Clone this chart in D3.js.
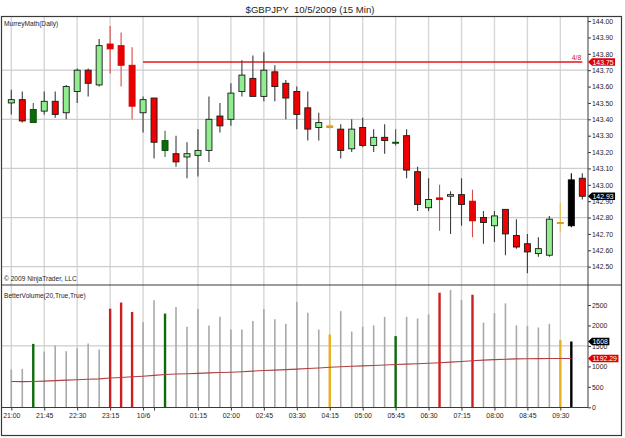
<!DOCTYPE html>
<html>
<head>
<meta charset="utf-8">
<script src="https://cdn.jsdelivr.net/npm/d3@7"></script>
<style>
  body { margin: 0; background: #fff; }
  svg text { font-family: "Liberation Sans", Arial, sans-serif; fill: #1e1e1e; }
</style>
</head>
<body>
<div id="chart"></div>
<script>
// 15 min bars, 10/5 21:00 -> 10/6 10:00
const times = ["21:00","21:15","21:30","21:45","22:00","22:15","22:30","22:45","23:00","23:15","23:30","23:45",
  "00:00","00:15","00:30","00:45","01:00","01:15","01:30","01:45","02:00","02:15","02:30","02:45",
  "03:00","03:15","03:30","03:45","04:00","04:15","04:30","04:45","05:00","05:15","05:30","05:45",
  "06:00","06:15","06:30","06:45","07:00","07:15","07:30","07:45","08:00","08:15","08:30","08:45",
  "09:00","09:15","09:30","09:45","10:00"];
const open  = [143.50,143.52,143.38,143.45,143.51,143.44,143.57,143.70,143.61,143.86,143.85,143.73,
  143.44,143.53,143.21,143.19,143.17,143.18,143.21,143.42,143.40,143.57,143.65,143.54,
  143.69,143.62,143.57,143.47,143.35,143.36,143.34,143.22,143.35,143.24,143.29,143.26,
  143.30,143.08,142.86,142.92,142.93,142.94,142.90,142.80,142.75,142.85,142.69,142.64,
  142.58,142.57,142.77,142.75,143.04];
const high  = [143.58,143.57,143.50,143.57,143.57,143.61,143.71,143.71,143.89,143.97,143.93,143.84,
  143.54,143.53,143.33,143.30,143.26,143.34,143.54,143.50,143.62,143.76,143.79,143.81,
  143.73,143.64,143.60,143.57,143.44,143.42,143.37,143.40,143.41,143.34,143.37,143.34,
  143.34,143.11,143.04,143.00,142.96,143.04,142.97,142.84,142.84,142.85,142.79,142.70,
  142.68,142.81,142.89,143.07,143.07];
const low   = [143.43,143.38,143.38,143.43,143.41,143.40,143.50,143.54,143.60,143.68,143.60,143.40,
  143.32,143.16,143.17,143.11,143.04,143.05,143.14,143.32,143.36,143.54,143.54,143.51,
  143.51,143.40,143.34,143.27,143.27,143.34,143.16,143.20,143.23,143.20,143.19,143.24,
  143.04,142.84,142.84,142.72,142.70,142.75,142.68,142.64,142.65,142.57,142.61,142.46,
  142.56,142.56,142.71,142.74,142.91];
const close = [143.52,143.39,143.46,143.51,143.43,143.60,143.70,143.62,143.85,143.83,143.73,143.48,
  143.52,143.26,143.27,143.14,143.19,143.21,143.40,143.36,143.56,143.67,143.54,143.70,
  143.60,143.53,143.43,143.34,143.38,143.35,143.21,143.34,143.24,143.29,143.27,143.26,
  143.09,142.88,142.91,142.91,142.94,142.88,142.78,142.77,142.81,142.70,142.62,142.59,
  142.61,142.79,142.77,143.03,142.93];
// up / dn normal, dg = green volume, cl = red climax, gd = gold, bk = black
const barKind = ["up","dn","dg","up","dn","up","up","dn","up","cl","cl","cl",
  "up","dn","dg","dn","up","up","up","dn","up","up","dn","up",
  "dn","dn","dn","dn","up","gd","dn","up","dn","up","dn","dg",
  "dn","dn","up","cl","up","dn","cl","dn","up","dn","dn","dn",
  "up","up","gd","bk","dn"];
// BetterVolume (last bar has none yet)
const volume = [920,940,1550,1360,1510,1370,1440,1560,1410,2410,2560,2330,
  2080,2615,2290,2450,1970,2400,2000,2210,1900,1900,2110,2400,
  2150,2040,2570,2310,1900,1780,2350,1850,1970,2000,2210,1740,
  2210,2170,2270,2800,2870,2620,2750,2070,2300,2540,2000,1990,
  1950,2040,1640,1608];
const volAvg = [630,628,630,640,652,663,675,686,695,715,730,745,
  760,780,800,812,820,830,842,850,858,870,885,898,
  908,920,933,948,962,980,990,1002,1012,1022,1035,1047,
  1055,1065,1075,1088,1104,1120,1136,1152,1165,1175,1183,1188,
  1190,1191,1192,1192.29];
const tickBars   = ["21:00","21:45","22:30","23:15","00:00","00:15","01:15","02:00","02:45","03:30","04:15","05:00","05:45","06:30","07:15","08:00","08:45","09:30"];
const tickLabels = ["21:00","21:45","22:30","23:15","10/6","","01:15","02:00","02:45","03:30","04:15","05:00","05:45","06:30","07:15","08:00","08:45","09:30"];
const gridBars = tickBars.filter((d, i) => tickLabels[i] !== "");
const priceTicks = [142.50,142.60,142.70,142.80,142.90,143.00,143.10,143.20,143.30,143.40,143.50,143.60,143.70,143.80,143.90,144.00];
const priceGrid = [142.50,142.80,143.10,143.40,143.70];
const volTicks = [0,500,1000,1500,2000,2500];
const volGrid = [1500];
const murreyLevel = 143.75, murreyLabel = "4/8", murreyFrom = "00:00", murreyTo = "10:00";

const W = 625, H = 438;
const pLeft = 1.5, pRight = 588, pTop = 16.5, pSplit = 285, pBottom = 407.5;
const small = "6.9px";

const svg = d3.select("#chart").append("svg").attr("width", W).attr("height", H);

const x = d3.scalePoint().domain(times).range([11.3, 582.3]);
const yP = d3.scaleLinear().domain([142.388, 144.031]).range([pSplit, 16]);
const yV = d3.scaleLinear().domain([0, 2964]).range([407.3, 286]);

const kindStyle = {
  up: {fill: "#90ee90", stroke: "#1a1a1a", wick: "#3c3c3c", vol: "#a9a9a9"},
  dn: {fill: "#f00000", stroke: "#1a1a1a", wick: "#3c3c3c", vol: "#a9a9a9"},
  dg: {fill: "#0b6b0b", stroke: "#0a4a0a", wick: "#2e6e2e", vol: "#0b6b0b"},
  cl: {fill: "#e60000", stroke: "#d80000", wick: "#d84848", vol: "#cc1f1f"},
  gd: {fill: "#e3a82a", stroke: "#d49a1a", wick: "#e8bd55", vol: "#e8b020"},
  bk: {fill: "#000", stroke: "#000", wick: "#000", vol: "#000"}
};

// title
svg.append("text").attr("x", 310).attr("y", 13).attr("text-anchor", "middle")
  .style("font-size", "9.6px").style("white-space", "pre")
  .text("$GBPJPY  10/5/2009 (15 Min)");

// grid
const grid = svg.append("g");
grid.selectAll(".vg").data(gridBars).enter().append("line")
  .attr("x1", d => x(d)).attr("x2", d => x(d))
  .attr("y1", pTop).attr("y2", pBottom)
  .attr("stroke", "#d6d6d6").attr("stroke-width", 1.4);
grid.selectAll(".hg").data(priceGrid).enter().append("line")
  .attr("x1", pLeft).attr("x2", pRight)
  .attr("y1", d => yP(d)).attr("y2", d => yP(d))
  .attr("stroke", "#cdcdcd").attr("stroke-width", 1.2);
grid.selectAll(".hv").data(volGrid).enter().append("line")
  .attr("x1", pLeft).attr("x2", pRight)
  .attr("y1", d => yV(d)).attr("y2", d => yV(d))
  .attr("stroke", "#cdcdcd").attr("stroke-width", 1.2);

// murrey math line
svg.append("line")
  .attr("x1", x(murreyFrom)).attr("x2", x(murreyTo))
  .attr("y1", yP(murreyLevel)).attr("y2", yP(murreyLevel))
  .attr("stroke", "#e8141a").attr("stroke-width", 1.4);
svg.append("text").attr("x", x(murreyTo) - 1).attr("y", yP(murreyLevel) - 2.5)
  .attr("text-anchor", "end").style("font-size", small).style("fill", "#d02020")
  .text(murreyLabel);

// candles
const idx = d3.range(times.length);
const candles = svg.append("g").selectAll("g").data(idx).enter().append("g");
candles.append("line")
  .attr("x1", i => x(times[i])).attr("x2", i => x(times[i]))
  .attr("y1", i => yP(high[i])).attr("y2", i => yP(low[i]))
  .attr("stroke", i => kindStyle[barKind[i]].wick).attr("stroke-width", 1.1);
candles.append("rect")
  .attr("x", i => x(times[i]) - 3)
  .attr("width", 6)
  .attr("y", i => yP(Math.max(open[i], close[i])))
  .attr("height", i => Math.max(1, Math.abs(yP(open[i]) - yP(close[i]))))
  .attr("fill", i => kindStyle[barKind[i]].fill)
  .attr("stroke", i => kindStyle[barKind[i]].stroke).attr("stroke-width", 0.9);

// volume bars
const vb = d3.range(volume.length);
svg.append("g").selectAll("line").data(vb).enter().append("line")
  .attr("x1", i => x(times[i])).attr("x2", i => x(times[i]))
  .attr("y1", yV(0)).attr("y2", i => yV(volume[i]))
  .attr("stroke", i => kindStyle[barKind[i]].vol)
  .attr("stroke-width", i => (barKind[i] === "up" || barKind[i] === "dn") ? 1.6 : 2.4);

// volume average
svg.append("path").datum(vb)
  .attr("d", d3.line().x(i => x(times[i])).y(i => yV(volAvg[i])))
  .attr("fill", "none").attr("stroke", "#b04040").attr("stroke-width", 1.1);

// frame
svg.append("rect").attr("x", pLeft).attr("y", pTop).attr("width", 620).attr("height", 419)
  .attr("fill", "none").attr("stroke", "#3a3a3a").attr("stroke-width", 1.2);
svg.append("line").attr("x1", pLeft).attr("x2", 621.5).attr("y1", pSplit).attr("y2", pSplit)
  .attr("stroke", "#3a3a3a").attr("stroke-width", 1.2);
svg.append("line").attr("x1", pRight).attr("x2", pRight).attr("y1", pTop).attr("y2", pBottom)
  .attr("stroke", "#3a3a3a").attr("stroke-width", 1);
svg.append("line").attr("x1", pLeft).attr("x2", pRight).attr("y1", pBottom).attr("y2", pBottom)
  .attr("stroke", "#3a3a3a").attr("stroke-width", 1);

// axes
const pAxis = svg.append("g").attr("transform", `translate(${pRight},0)`)
  .call(d3.axisRight(yP).tickValues(priceTicks).tickSize(3).tickPadding(1).tickFormat(d3.format(".2f")));
const vAxis = svg.append("g").attr("transform", `translate(${pRight},0)`)
  .call(d3.axisRight(yV).tickValues(volTicks).tickSize(3).tickPadding(1).tickFormat(d3.format("d")));
const xAxis = svg.append("g").attr("transform", `translate(0,${pBottom})`)
  .call(d3.axisBottom(x).tickValues(tickBars).tickSize(3).tickPadding(3)
    .tickFormat(d => tickLabels[tickBars.indexOf(d)]));
[pAxis, vAxis, xAxis].forEach(a => {
  a.select(".domain").remove();
  a.selectAll("line").attr("stroke", "#3a3a3a");
  a.selectAll("text").style("font-size", small).attr("font-family", null).attr("fill", "#1e1e1e");
});

// value tags on the right axis, box sized to its text
function tag(y, label, color) {
  const g = svg.append("g");
  const path = g.append("path").attr("fill", color);
  const t = g.append("text").attr("x", pRight + 4.5).attr("y", y + 2.5)
    .style("font-size", small).style("fill", "#fff").text(label);
  const w = t.node().getComputedTextLength() + 6;
  path.attr("d", `M${pRight},${y} L${pRight + 4},${y - 3.8} L${pRight + w},${y - 3.8} L${pRight + w},${y + 3.8} L${pRight + 4},${y + 3.8} Z`);
}
tag(yP(murreyLevel), d3.format(".2f")(murreyLevel), "#e00000");
tag(yP(close[close.length - 1]), d3.format(".2f")(close[close.length - 1]), "#000");
tag(yV(volume[volume.length - 1]), d3.format("d")(volume[volume.length - 1]), "#000");
tag(yV(volAvg[volAvg.length - 1]), d3.format(".2f")(volAvg[volAvg.length - 1]), "#e00000");

// panel captions
svg.append("text").attr("x", 4).attr("y", 26).style("font-size", "6.6px").text("MurreyMath(Daily)");
svg.append("text").attr("x", 4).attr("y", 280.5).style("font-size", "6.6px").text("\u00a9 2009 NinjaTrader, LLC");
svg.append("text").attr("x", 4).attr("y", 298).style("font-size", "6.6px").text("BetterVolume(20,True,True)");
</script>
</body>
</html>
